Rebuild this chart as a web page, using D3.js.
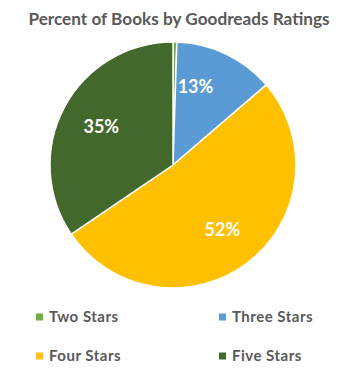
<!DOCTYPE html>
<html><head><meta charset="utf-8">
<script src="https://cdn.jsdelivr.net/npm/d3@7"></script>
<style>body{margin:0;background:#fff}svg{display:block}</style>
</head><body>
<svg id="c" width="351" height="380"></svg>
<script>
const categories = ["Two Stars", "Three Stars", "Four Stars", "Five Stars"];
const values = [0.5, 13.2, 51.8, 34.5];
const colors = ["#70AD47", "#5B9BD5", "#FFC000", "#43682B"];
const title = "Percent of Books by Goodreads Ratings";

const svg = d3.select("#c");
const cx = 173, cy = 165, R = 123;
const font = "Lato, 'Open Sans', sans-serif";

svg.append("text").attr("x", 179).attr("y", 25)
  .attr("text-anchor", "middle").attr("font-family", font)
  .attr("font-weight", "bold").attr("font-size", 17.2).attr("fill", "#595959")
  .text(title);

const pie = d3.pie().sort(null).value(d => d)(values);
const arc = d3.arc().innerRadius(0).outerRadius(R);
const g = svg.append("g").attr("transform", `translate(${cx},${cy})`);
g.selectAll("path").data(pie).join("path")
  .attr("d", arc).attr("fill", (d, i) => colors[i])
  .attr("stroke", "#fff").attr("stroke-width", 1.5);

const lr = R * 0.66;
g.selectAll("text.lbl").data(pie.filter(d => d.value >= 1)).join("text")
  .attr("class", "lbl")
  .attr("transform", d => {
    const span = d.endAngle - d.startAngle;
    const a = span < 0.2 * 2 * Math.PI ? d.startAngle + 0.3 * span : (d.startAngle + d.endAngle) / 2;
    return `translate(${lr * Math.sin(a)},${-lr * Math.cos(a)})`;
  })
  .attr("text-anchor", "middle").attr("dy", "0.36em")
  .attr("font-family", font).attr("font-weight", "bold").attr("font-size", 18)
  .attr("fill", "#fff")
  .text(d => Math.round(d.value) + "%");

const lx = d3.scalePoint().domain([0, 1]).range([36, 219]);
const ly = d3.scalePoint().domain([0, 1]).range([317, 356]);
const leg = svg.selectAll("g.leg").data(categories).join("g").attr("class", "leg")
  .attr("transform", (d, i) => `translate(${lx(i % 2)},${ly(Math.floor(i / 2))})`);
leg.append("rect").attr("x", 0).attr("y", -3.5).attr("width", 7).attr("height", 7)
  .attr("fill", (d, i) => colors[i]);
leg.append("text").attr("x", 13).attr("dy", "0.36em")
  .attr("font-family", font).attr("font-weight", "bold").attr("font-size", 15)
  .attr("letter-spacing", 0.5)
  .attr("fill", "#595959").text(d => d);
</script>
</body></html>
